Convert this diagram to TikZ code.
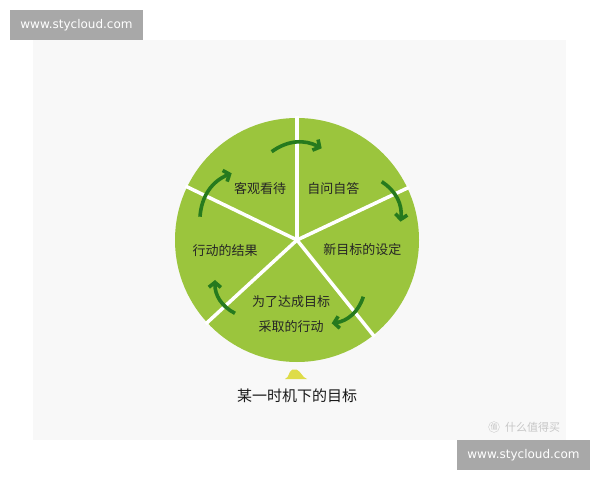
\documentclass[tikz,border=0pt]{standalone}
\usepackage{fontspec}
\setmainfont{DejaVu Sans}
\newfontfamily\cjk{Noto Sans CJK SC}
\usetikzlibrary{arrows.meta,positioning}
\definecolor{wheelgreen}{HTML}{9BC53D}
\definecolor{arrowgreen}{HTML}{267A1E}
\definecolor{markgray}{HTML}{A8A8A8}
\definecolor{panelgray}{HTML}{F8F8F8}
\definecolor{moundyellow}{HTML}{DEDC48}
\begin{document}
\begin{tikzpicture}[x=1pt, y=1pt,
    step label/.style={font=\cjk\fontsize{13}{25}\selectfont, text=black!85, align=center, inner sep=0pt},
    cycle arrow/.style={arrowgreen, line width=3.6pt, -{Straight Barb[length=5pt, width=12pt]}, bend left=32},
    spoke/.style={white, line width=3.5pt},
    watermark/.style={fill=markgray, text=white, font=\fontsize{12}{14}\selectfont,
      minimum width=133pt, minimum height=30pt, inner sep=0pt}]
  \useasboundingbox[fill=white] (0,0) rectangle (600,480);
  \fill[panelgray] (33,40) rectangle (566,440);

  % the wheel
  \coordinate (hub) at (297,240);
  \fill[wheelgreen] (hub) circle[radius=122];
  \foreach \a in {90,25.2,-51.3,222.6,154.2}
    \draw[spoke] (hub) -- ++(\a:124);

  % steps of the cycle
  \node[step label] (view) at (260,291.7) {客观看待};
  \node[step label] (ask) at (333.3,291.7) {自问自答};
  \node[step label] (goal) at (362.3,230) {新目标的设定};
  \node[step label] (act) at (291,166) {为了达成目标\\采取的行动};
  \node[step label] (result) at (225,229) {行动的结果};

  % arrows round the wheel
  \coordinate (a1) at (271.7,328.3);
  \coordinate (b1) at (321.7,331.7);
  \coordinate (a2) at (381.7,298.3);
  \coordinate (b2) at (400.5,258.3);
  \coordinate (a3) at (363.3,183.3);
  \coordinate (b3) at (331.7,156.7);
  \coordinate (a4) at (235,166.7);
  \coordinate (b4) at (215,200);
  \coordinate (a5) at (200,263.3);
  \coordinate (b5) at (231.7,306.7);
  \foreach \i in {1,...,5}
    \draw[cycle arrow] (a\i) to (b\i);

  % pointer and caption
  \fill[moundyellow] (285,101) to[out=20,in=205] (292.5,110.5) to[out=25,in=155] (296.5,110.5)
    to[out=-25,in=160] (307,101) -- cycle;
  \node[font=\cjk\fontsize{15}{18}\selectfont, text=black!90] (moment) at (297,84) {某一时机下的目标};

  % site marks
  \node[watermark] (topmark) at (76.5,455) {www.stycloud.com};
  \node[watermark] (bottommark) at (523.5,25) {www.stycloud.com};
  \node[draw=black!20, circle, inner sep=0.5pt, text=black!25, font=\cjk\fontsize{7}{8}\selectfont] (logo) at (494,53) {值};
  \node[right=2pt of logo, text=black!22, font=\cjk\fontsize{11}{12}\selectfont] (site) {什么值得买};
\end{tikzpicture}
\end{document}
